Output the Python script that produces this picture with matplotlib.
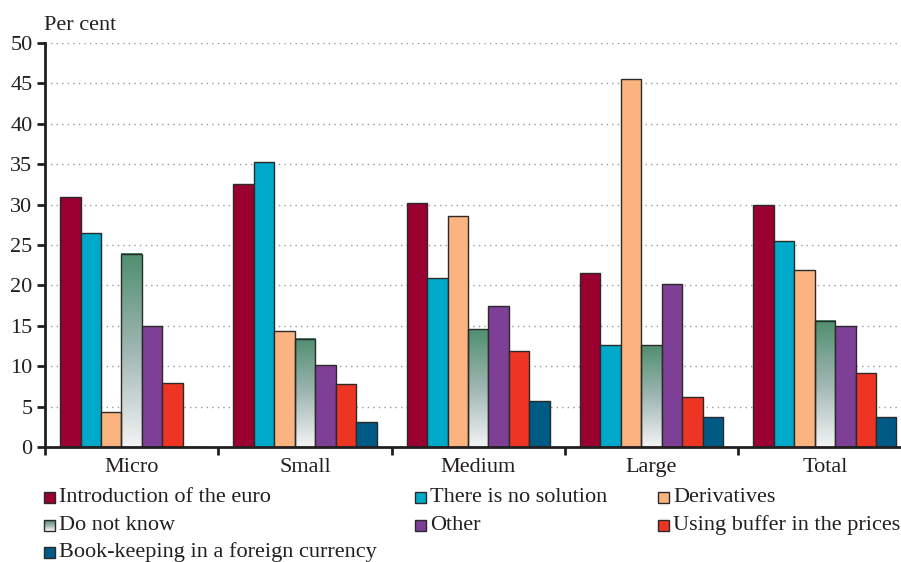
import numpy as np
import matplotlib.pyplot as plt
from matplotlib.colors import LinearSegmentedColormap
from matplotlib.patches import Rectangle

# values (per cent)
groups = ['Micro', 'Small', 'Medium', 'Large', 'Total']
intro_euro = [30.9, 32.5, 30.2, 21.5, 30.0]
no_solution = [26.5, 35.3, 20.9, 12.6, 25.5]
derivatives = [4.3, 14.3, 28.6, 45.5, 21.9]
do_not_know = [23.9, 13.4, 14.6, 12.6, 15.6]
other = [15.0, 10.1, 17.4, 20.2, 15.0]
buffer_prices = [7.9, 7.8, 11.9, 6.2, 9.2]
book_keeping = [0.0, 3.1, 5.7, 3.7, 3.7]

labels = ['Introduction of the euro', 'There is no solution', 'Derivatives',
          'Do not know', 'Other', 'Using buffer in the prices',
          'Book-keeping in a foreign currency']
colors = ['#9a0030', '#00a8c9', '#fbb47f', None, '#7e3f97', '#ee3524', '#005a86']
series = [intro_euro, no_solution, derivatives, do_not_know, other,
          buffer_prices, book_keeping]

plt.rcParams['font.family'] = ['Liberation Serif', 'DejaVu Serif']
fs = 16
txt_color = '#231f20'
edge = '#2a2a2a'

# gradient used for "Do not know" (white at the bottom, green at the top)
grad_cmap = LinearSegmentedColormap.from_list(
    'dnk', ['#f3f4f4', '#9fb6b2', '#4f8f6f'])
grad = np.linspace(0, 1, 256).reshape(-1, 1)

W, H = 901, 562
fig = plt.figure(figsize=(W / 100, H / 100), dpi=100)
ax = fig.add_axes([45 / W, 115 / H, 866.5 / W, 404 / H])

x = np.arange(len(groups)) + 0.5
width = 0.118

for i, (vals, color) in enumerate(zip(series, colors)):
    pos = x + (i - 3) * width
    if color is None:
        bars = ax.bar(pos, vals, width, facecolor='none', edgecolor=edge,
                      linewidth=1, zorder=3)
        for b in bars:
            ax.imshow(grad, cmap=grad_cmap, origin='lower', aspect='auto',
                      extent=(b.get_x(), b.get_x() + b.get_width(), 0, b.get_height()),
                      zorder=2.5)
    else:
        ax.bar(pos, vals, width, color=color, edgecolor=edge, linewidth=1, zorder=3)

ax.set_xlim(0, 5)
ax.set_ylim(0, 50)

# axes styling
for s in ['top', 'right']:
    ax.spines[s].set_visible(False)
for s in ['left', 'bottom']:
    ax.spines[s].set_linewidth(2)
    ax.spines[s].set_color(txt_color)
    ax.spines[s].set_zorder(5)

ax.set_yticks(range(0, 51, 5))
ax.tick_params(axis='y', length=6, width=2, pad=3, colors=txt_color, labelsize=fs)
ax.set_xticks(range(0, 6))
ax.set_xticklabels([])
ax.tick_params(axis='x', which='major', length=6, width=2, color=txt_color)
ax.set_xticks(x, minor=True)
ax.set_xticklabels(groups, minor=True)
ax.tick_params(axis='x', which='minor', length=0, pad=8, labelsize=fs, labelcolor=txt_color)

ax.yaxis.grid(True, linestyle=(0, (1, 3)), color='#9a9a9a', linewidth=1)
ax.set_axisbelow(True)

fig.text(44 / W, 1 - 25 / H, 'Per cent', ha='left', va='center', color=txt_color, fontsize=fs)

# legend laid out in three columns, row by row
col_x = [44, 415, 658]
row_y = [497, 525, 552]
sq = 11
for i, (label, color) in enumerate(zip(labels, colors)):
    px = col_x[i % 3]
    py = row_y[i // 3]
    fx, fy = px / W, 1 - (py + sq / 2) / H
    if color is None:
        n = 11
        for k in range(n):
            fig.patches.append(Rectangle((fx, fy + k * sq / n / H), sq / W, sq / n / H,
                                         transform=fig.transFigure, facecolor=grad_cmap(k / (n - 1)),
                                         edgecolor='none'))
        fig.patches.append(Rectangle((fx, fy), sq / W, sq / H, transform=fig.transFigure,
                                     facecolor='none', edgecolor=edge, linewidth=1))
    else:
        fig.patches.append(Rectangle((fx, fy), sq / W, sq / H, transform=fig.transFigure,
                                     facecolor=color, edgecolor=edge, linewidth=1))
    fig.text((px + 15) / W, 1 - py / H, label, ha='left', va='center',
             color=txt_color, fontsize=fs)

fig.savefig('out.png', dpi=100)
